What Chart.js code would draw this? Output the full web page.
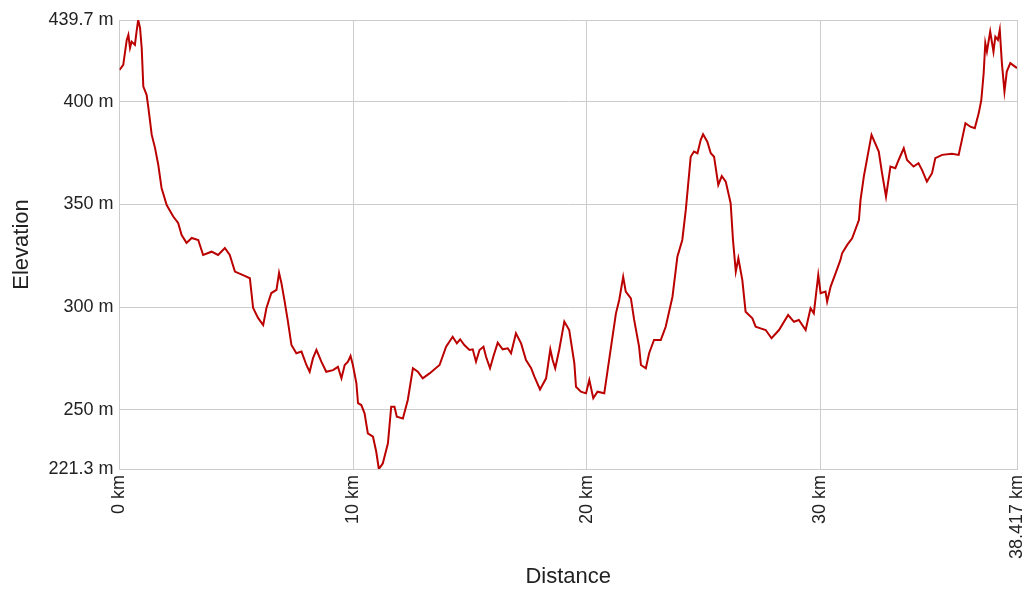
<!DOCTYPE html>
<html lang="en">
<head>
    <meta charset="UTF-8">
    <title>Elevation profile</title>
    <script src="https://cdn.jsdelivr.net/npm/chart.js"></script>
    <style>
        html, body { margin: 0; padding: 0; background: #fff; }
        #wrap { width: 1027px; height: 590px; }
    </style>
</head>
<body>
    <div id="wrap"><canvas id="profile"></canvas></div>
    <script>
        // distance along the track (km) and elevation (m)
        const distances = [
            0, 0.16, 0.31, 0.38, 0.45, 0.52, 0.66, 0.74, 0.80, 0.88,
            0.95, 1.02, 1.16, 1.23, 1.38, 1.52, 1.66, 1.80, 2.02, 2.30,
            2.51, 2.66, 2.87, 3.09, 3.37, 3.58, 3.94, 4.22, 4.51, 4.72,
            4.94, 5.36, 5.58, 5.72, 5.93, 6.15, 6.29, 6.50, 6.72, 6.83,
            6.93, 7.07, 7.21, 7.36, 7.57, 7.79, 8.00, 8.14, 8.28, 8.43,
            8.64, 8.85, 9.14, 9.35, 9.50, 9.64, 9.78, 9.89, 9.99, 10.14,
            10.21, 10.35, 10.49, 10.63, 10.85, 10.99, 11.10, 11.27, 11.49, 11.63,
            11.77, 11.87, 12.13, 12.34, 12.56, 12.77, 12.98, 13.27, 13.70, 13.98,
            14.26, 14.44, 14.58, 14.76, 14.98, 15.12, 15.26, 15.41, 15.58, 15.69,
            15.86, 16.00, 16.19, 16.40, 16.62, 16.76, 16.97, 17.19, 17.40, 17.62,
            17.76, 18.00, 18.26, 18.44, 18.54, 18.65, 18.82, 19.04, 19.25, 19.47,
            19.54, 19.75, 19.97, 20.11, 20.28, 20.46, 20.75, 21.03, 21.25, 21.39,
            21.56, 21.67, 21.89, 22.03, 22.24, 22.32, 22.53, 22.67, 22.88, 23.17,
            23.38, 23.67, 23.88, 24.09, 24.24, 24.45, 24.59, 24.74, 24.88, 24.98,
            25.16, 25.31, 25.45, 25.63, 25.78, 25.95, 26.16, 26.26, 26.38, 26.49,
            26.66, 26.80, 27.09, 27.23, 27.44, 27.66, 27.91, 28.23, 28.62, 28.87,
            29.08, 29.37, 29.58, 29.72, 29.91, 30.01, 30.22, 30.29, 30.44, 30.65,
            30.86, 30.93, 31.15, 31.36, 31.65, 31.72, 31.86, 32.07, 32.19, 32.50,
            32.64, 32.81, 33.00, 33.21, 33.35, 33.57, 33.71, 33.99, 34.20, 34.35,
            34.56, 34.78, 34.92, 35.21, 35.63, 35.92, 36.06, 36.21, 36.42, 36.61,
            36.78, 36.89, 36.99, 37.06, 37.13, 37.27, 37.41, 37.49, 37.60, 37.68,
            37.77, 37.88, 37.98, 38.13, 38.417
        ];
        const elevations = [
            415.4, 417.9, 430.0, 432.5, 426.1, 429.2, 427.6, 434.9, 439.7, 435.9,
            426.1, 407.3, 403.3, 397.6, 383.8, 377.5, 369.2, 358.0, 349.7, 344.1,
            341.0, 335.1, 331.3, 333.7, 332.7, 325.4, 327.0, 325.4, 328.8, 325.4,
            317.3, 315.2, 314.1, 299.6, 294.8, 291.3, 299.6, 306.9, 308.4, 316.7,
            311.8, 302.7, 293.0, 281.6, 277.6, 278.4, 271.9, 268.6, 275.1, 279.2,
            273.5, 268.6, 269.4, 271.0, 265.4, 271.9, 273.5, 276.3, 271.9, 263.0,
            253.3, 252.4, 248.4, 238.6, 237.0, 229.7, 221.3, 224.0, 233.8, 251.6,
            251.6, 246.7, 245.9, 254.9, 270.3, 268.6, 265.4, 267.8, 271.9, 280.8,
            285.6, 282.4, 284.4, 281.6, 279.2, 279.5, 273.5, 279.2, 280.8, 275.9,
            270.3, 275.9, 282.7, 279.5, 280.0, 277.6, 287.3, 282.4, 274.3, 270.3,
            266.2, 260.0, 265.4, 279.5, 274.3, 270.3, 279.2, 293.0, 288.9, 272.7,
            261.3, 258.9, 258.1, 264.6, 255.7, 258.9, 258.1, 280.0, 297.0, 303.5,
            314.8, 307.6, 304.3, 293.8, 280.8, 271.9, 270.3, 277.6, 284.1, 284.1,
            290.5, 305.1, 324.6, 332.7, 347.3, 373.2, 375.7, 374.9, 381.4, 384.1,
            380.5, 374.9, 373.2, 359.5, 363.8, 361.1, 350.6, 332.7, 317.3, 323.8,
            313.2, 297.8, 294.6, 290.5, 289.7, 288.9, 284.9, 288.9, 296.2, 292.9,
            293.8, 288.9, 299.5, 297.0, 315.7, 306.8, 307.6, 302.7, 310.0, 316.5,
            323.0, 326.2, 330.3, 333.5, 342.4, 352.2, 363.5, 376.5, 383.8, 375.7,
            365.2, 353.8, 368.4, 367.6, 371.6, 377.3, 371.6, 368.4, 370.0, 366.8,
            361.1, 365.2, 372.5, 374.1, 374.6, 374.1, 381.4, 389.5, 387.8, 387.1,
            394.4, 400.8, 413.8, 428.4, 424.3, 434.1, 424.3, 431.6, 430.0, 434.9,
            418.7, 404.9, 414.6, 418.7, 416.3
        ];
        const xTicks = [0, 10, 20, 30, 38.417];
        const yTicks = [221.3, 250, 300, 350, 400, 439.7];

        const points = distances.map((d, i) => ({ x: d, y: elevations[i] }));
        const gridColor = '#cccccc';
        const tickFont = { family: 'Liberation Sans, Arial, sans-serif', size: 18 };
        const titleFont = { family: 'Liberation Sans, Arial, sans-serif', size: 22 };

        new Chart(document.getElementById('profile'), {
            type: 'line',
            data: {
                datasets: [{
                    data: points,
                    borderColor: '#bb0000',
                    borderWidth: 2,
                    pointRadius: 0,
                    tension: 0,
                    fill: false
                }]
            },
            options: {
                responsive: true,
                maintainAspectRatio: false,
                animation: false,
                layout: { padding: { top: 20, right: 10, left: 0, bottom: 0 } },
                plugins: { legend: { display: false }, tooltip: { enabled: false } },
                scales: {
                    x: {
                        type: 'linear',
                        min: 0,
                        max: 38.417,
                        afterBuildTicks: s => { s.ticks = xTicks.map(v => ({ value: v })); },
                        afterFit: s => { s.height = 121; s.paddingLeft = 0; s.paddingRight = 0; },
                        ticks: {
                            autoSkip: false,
                            minRotation: 90,
                            maxRotation: 90,
                            padding: 6,
                            color: '#222',
                            font: tickFont,
                            callback: v => v + ' km'
                        },
                        grid: { color: gridColor, drawTicks: false },
                        border: { color: gridColor },
                        title: {
                            display: true,
                            text: 'Distance',
                            color: '#222',
                            font: titleFont,
                            padding: { top: 0, bottom: 0 }
                        }
                    },
                    y: {
                        min: 221.3,
                        max: 439.7,
                        afterBuildTicks: s => { s.ticks = yTicks.map(v => ({ value: v })); },
                        afterFit: s => { s.width = 119.5; },
                        ticks: {
                            padding: 6,
                            color: '#222',
                            font: tickFont,
                            callback: v => v + ' m'
                        },
                        grid: { color: gridColor, drawTicks: false },
                        border: { color: gridColor },
                        title: {
                            display: true,
                            text: 'Elevation',
                            color: '#222',
                            font: titleFont,
                            padding: { top: 9, bottom: 0 }
                        }
                    }
                }
            }
        });
    </script>
</body>
</html>
